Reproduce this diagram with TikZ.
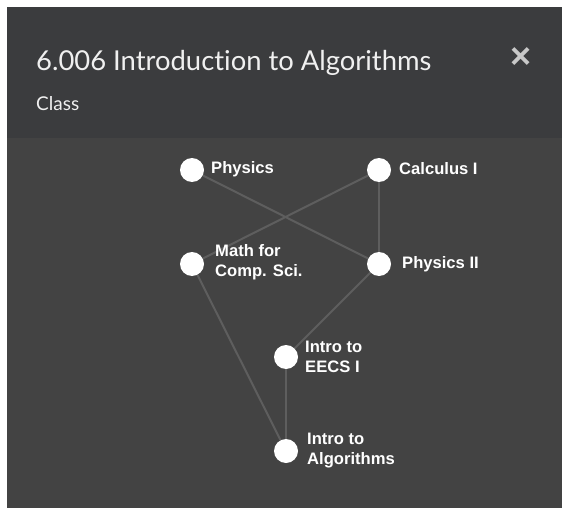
\documentclass[tikz,border=0pt]{standalone}
\usepackage{fontspec}
\setmainfont{Lato}[Ligatures=NoCommon]
\newfontfamily\labelfont{Liberation Sans}
\definecolor{hdr}{HTML}{3B3C3E}
\definecolor{bodybg}{HTML}{434343}
\definecolor{edgec}{HTML}{5E5E5E}
\definecolor{titlec}{HTML}{F0F0F0}
\definecolor{closec}{HTML}{C8C8C8}
\tikzset{
  course/.style={circle, fill=white, draw=none, minimum size=24pt, inner sep=0pt},
  clabel/.style={anchor=west, text=white, font=\labelfont\bfseries\fontsize{16.6}{20}\selectfont, align=left, inner sep=0pt},
  prereq/.style={draw=edgec, line width=2pt}
}
\begin{document}
\begin{tikzpicture}[x=1pt,y=-1pt]
\useasboundingbox (0,0) rectangle (562,508);
\fill[white] (0,0) rectangle (562,508);
\fill[bodybg] (7,7) rectangle (562,508);
\fill[hdr] (7,7) rectangle (562,138);
\node[anchor=base west, text=titlec, inner sep=0pt, font=\fontsize{27.4}{33}\selectfont] (title) at (36,71) {6.006 Introduction to Algorithms};
\node[anchor=base west, text=titlec, inner sep=0pt, font=\fontsize{19}{24}\selectfont] (sub) at (36,111) {Class};
\node[text=closec, inner sep=0pt, font=\labelfont\bfseries\fontsize{36}{36}\selectfont] (close) at (521,58) {×};

\node[course] (phys) at (192,170) {};
\node[course] (calc) at (379,170) {};
\node[course] (math) at (192,264) {};
\node[course] (phys2) at (379,264) {};
\node[course] (eecs) at (286,357) {};
\node[course] (algo) at (286,451) {};

\draw[prereq] (phys) -- (phys2);
\draw[prereq] (calc) -- (math);
\draw[prereq] (calc) -- (phys2);
\draw[prereq] (math) -- (algo);
\draw[prereq] (phys2) -- (eecs);
\draw[prereq] (eecs) -- (algo);

\node[clabel] (lphys) at (211,169) {Physics};
\node[clabel] (lcalc) at (399,169) {Calculus I};
\node[clabel] (lmath) at (215,262) {Math for\\Comp. Sci.};
\node[clabel] (lphys2) at (402,264) {Physics II};
\node[clabel] (leecs) at (305,357) {Intro to\\EECS I};
\node[clabel] (lalgo) at (307,451) {Intro to\\Algorithms};
\end{tikzpicture}
\end{document}
